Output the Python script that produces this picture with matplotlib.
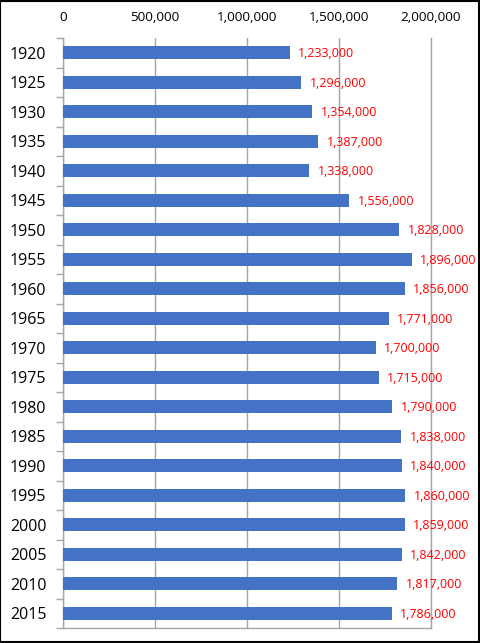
import matplotlib
matplotlib.use("Agg")
import matplotlib.pyplot as plt
from matplotlib.ticker import FixedLocator, FuncFormatter
import numpy as np

years = ["1920", "1925", "1930", "1935", "1940", "1945", "1950", "1955", "1960", "1965",
         "1970", "1975", "1980", "1985", "1990", "1995", "2000", "2005", "2010", "2015"]
population = [1233000, 1296000, 1354000, 1387000, 1338000, 1556000, 1828000, 1896000,
              1856000, 1771000, 1700000, 1715000, 1790000, 1838000, 1840000, 1860000,
              1859000, 1842000, 1817000, 1786000]
x_ticks = [0, 500000, 1000000, 1500000, 2000000]

plt.rcParams['font.family'] = ['Open Sans', 'DejaVu Sans']

fig = plt.figure(figsize=(4.8, 6.43), dpi=100)
ax = fig.add_axes([63/480, 1 - 628/643, (431 - 63)/480, (628 - 38)/643])

n = len(years)
y = np.arange(n)
ax.barh(y, population, height=0.44, color="#4472C4", zorder=3)
for yi, v in zip(y, population):
    ax.text(v + 45000, yi + 0.04, f"{v:,}", color="#FF0000", va="center", ha="left",
            fontsize=9.0, zorder=4)

ax.set_xlim(0, 2000000)
ax.set_ylim(n - 0.5, -0.5)
ax.xaxis.tick_top()
ax.set_xticks(x_ticks)
ax.xaxis.set_major_formatter(FuncFormatter(lambda v, p: f"{int(v):,}"))
ax.tick_params(axis="x", length=0, pad=10, labelsize=9.7, colors="black")
ax.grid(axis="x", color="#A6A6A6", linewidth=1, zorder=0)

ax.set_yticks(y)
ax.set_yticklabels(years)
ax.tick_params(axis="y", which="major", length=0, pad=12, labelsize=11.5)
ax.yaxis.set_minor_locator(FixedLocator(np.arange(-0.5, n, 1)))
ax.tick_params(axis="y", which="minor", length=5, color="#A6A6A6", width=1)

for s in ["left", "bottom", "right"]:
    ax.spines[s].set_color("#A6A6A6")
    ax.spines[s].set_linewidth(1)
ax.spines["top"].set_visible(False)

fig.patches.append(plt.Rectangle((0.001, 0.001), 0.997, 0.997, transform=fig.transFigure,
                                 fill=False, edgecolor="black", linewidth=1.5))

fig.savefig("out.png", dpi=100)
